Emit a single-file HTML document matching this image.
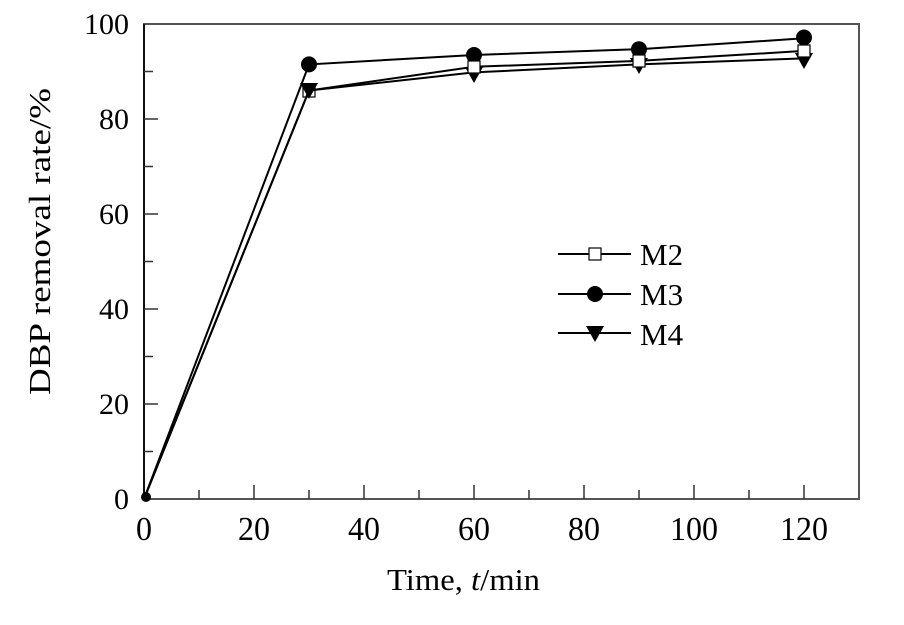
<!DOCTYPE html>
<html><head><style>body{margin:0;background:#fff}svg{display:block}</style></head><body>
<svg width="904" height="625" xmlns="http://www.w3.org/2000/svg" font-family="Liberation Serif, serif">
<rect width="904" height="625" fill="#fff"/>
<rect x="144" y="24" width="715" height="475" fill="none" stroke="#555" stroke-width="2"/>
<line x1="144" y1="24" x2="144" y2="499" stroke="#111" stroke-width="2"/>
<g stroke="#333" stroke-width="1.5">
<line x1="199" y1="499" x2="199" y2="490"/><line x1="254" y1="499" x2="254" y2="485"/>
<line x1="309" y1="499" x2="309" y2="490"/><line x1="364" y1="499" x2="364" y2="485"/>
<line x1="419" y1="499" x2="419" y2="490"/><line x1="474" y1="499" x2="474" y2="485"/>
<line x1="529" y1="499" x2="529" y2="490"/><line x1="584" y1="499" x2="584" y2="485"/>
<line x1="639" y1="499" x2="639" y2="490"/><line x1="694" y1="499" x2="694" y2="485"/>
<line x1="749" y1="499" x2="749" y2="490"/><line x1="804" y1="499" x2="804" y2="485"/>
<line x1="144" y1="451.5" x2="153" y2="451.5"/><line x1="144" y1="404" x2="158" y2="404"/>
<line x1="144" y1="356.5" x2="153" y2="356.5"/><line x1="144" y1="309" x2="158" y2="309"/>
<line x1="144" y1="261.5" x2="153" y2="261.5"/><line x1="144" y1="214" x2="158" y2="214"/>
<line x1="144" y1="166.5" x2="153" y2="166.5"/><line x1="144" y1="119" x2="158" y2="119"/>
<line x1="144" y1="71.5" x2="153" y2="71.5"/>
</g>
<g font-size="32" fill="#000" text-anchor="middle" transform="translate(0,540) scale(1,1.05)">
<text x="144" y="0">0</text><text x="254" y="0">20</text><text x="364" y="0">40</text>
<text x="474" y="0">60</text><text x="584" y="0">80</text><text x="694" y="0">100</text><text x="804" y="0">120</text>
</g>
<g font-size="30" fill="#000" text-anchor="end">
<text x="129" y="509">0</text><text x="129" y="414">20</text><text x="129" y="319">40</text>
<text x="129" y="224">60</text><text x="129" y="129">80</text><text x="129" y="34">100</text>
</g>
<text x="387" y="590" font-size="31" textLength="153" lengthAdjust="spacingAndGlyphs">Time, <tspan font-style="italic">t</tspan>/min</text>
<text transform="translate(50,395) rotate(-90)" font-size="31" textLength="307" lengthAdjust="spacingAndGlyphs">DBP removal rate/%</text>
<g fill="none" stroke="#000" stroke-width="2">
<polyline points="144,499 309,90.5 474,66.8 639,60.9 804,50.9"/>
<polyline points="144,499 309,64.4 474,55 639,49.2 804,38.3"/>
<polyline points="144,499 309,90.5 474,72.4 639,64.4 804,58.4"/>
</g>
<g fill="#000">
<circle cx="146" cy="497" r="5"/>
<circle cx="309" cy="64.4" r="8"/><circle cx="474" cy="55" r="8"/><circle cx="639" cy="49.2" r="8"/><circle cx="804" cy="37.5" r="8"/>
<path d="M300,83 h18 l-9,16z M465,67 h18 l-9,16z M630,58 h18 l-9,16z M795,53 h18 l-9,16z"/>
</g>
<g fill="#fff" stroke="#000" stroke-width="1.2">
<rect x="303" y="85" width="12" height="12" fill="none"/><rect x="468" y="61" width="12" height="12"/><rect x="633" y="55" width="12" height="12"/><rect x="798" y="45" width="12" height="12"/>
</g>
<g stroke="#000" stroke-width="2">
<line x1="558" y1="254" x2="631" y2="254"/><line x1="558" y1="294" x2="631" y2="294"/><line x1="558" y1="333" x2="631" y2="333"/>
</g>
<rect x="589" y="248" width="12" height="12" fill="#fff" stroke="#000" stroke-width="1.2"/>
<circle cx="595" cy="294" r="8" fill="#000"/>
<path d="M586,326 h18 l-9,16z" fill="#000"/>
<g font-size="31">
<text x="640" y="265">M2</text><text x="640" y="305">M3</text><text x="640" y="345">M4</text>
</g>
</svg>
</body></html>
